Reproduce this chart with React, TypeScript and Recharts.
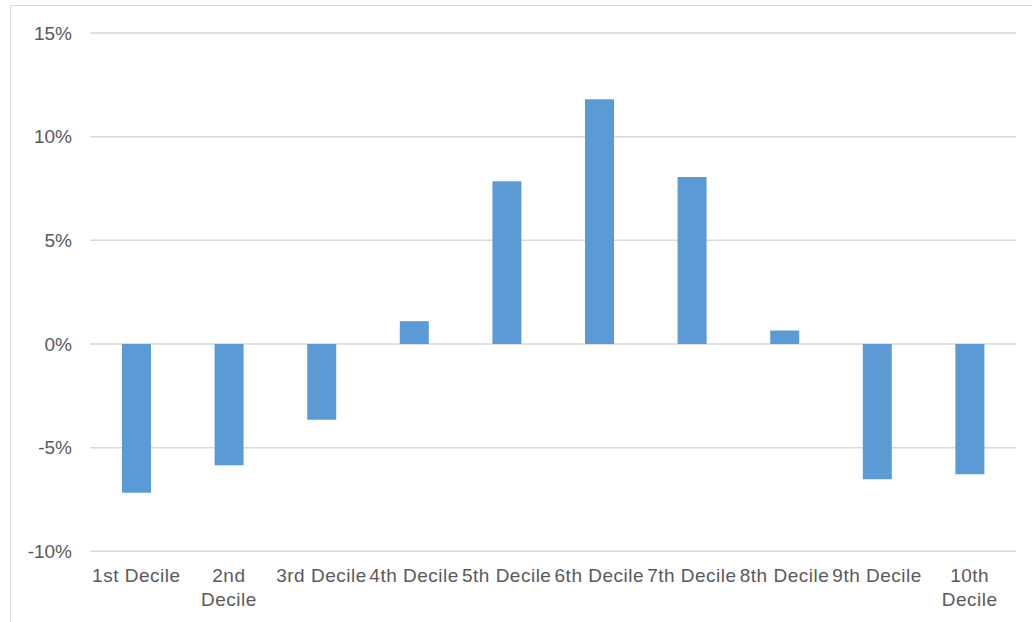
import { Bar, BarChart, CartesianGrid, XAxis, YAxis } from "recharts";

const categories = [
  "1st Decile",
  "2nd\nDecile",
  "3rd Decile",
  "4th Decile",
  "5th Decile",
  "6th Decile",
  "7th Decile",
  "8th Decile",
  "9th Decile",
  "10th\nDecile",
];
const values = [-0.0717, -0.0585, -0.0365, 0.011, 0.0785, 0.118, 0.0805, 0.0065, -0.0652, -0.0628];
const yTicks = [-0.1, -0.05, 0, 0.05, 0.1, 0.15];

const data = categories.map((name, i) => ({ name, value: values[i] }));

const TEXT = "#595959";
const FONT = "Arial, 'Liberation Sans', sans-serif";

function CategoryTick({ x, y, payload }: any) {
  const lines = String(payload.value).split("\n");
  return (
    <text x={x} y={y} textAnchor="middle" fill={TEXT} fontSize={19} letterSpacing={0.5} fontFamily={FONT}>
      {lines.map((line, i) => (
        <tspan key={i} x={x} dy={i === 0 ? 22.5 : 24}>
          {line}
        </tspan>
      ))}
    </text>
  );
}

export default function App() {
  return (
    <div style={{ position: "absolute", left: 0, top: 0, width: 1032, height: 622, overflow: "hidden", background: "#fff" }}>
      <div
        style={{
          position: "absolute",
          left: 10,
          top: 5,
          width: 1030,
          height: 700,
          border: "1px solid #D9D9D9",
          boxSizing: "border-box",
        }}
      />
      <div style={{ position: "absolute", left: 0, top: 0 }}>
        <BarChart width={1032} height={622} data={data} margin={{ top: 33, right: 16, bottom: 10.7, left: 10 }}>
          <CartesianGrid vertical={false} stroke="#D9D9D9" strokeWidth={1.5} />
          <XAxis
            dataKey="name"
            axisLine={false}
            tickLine={false}
            height={60}
            interval={0}
            tick={<CategoryTick />}
          />
          <YAxis
            width={80}
            domain={[-0.1, 0.15]}
            ticks={yTicks}
            axisLine={false}
            tickLine={false}
            tickMargin={12}
            tickFormatter={(v: number) => `${Math.round(v * 100)}%`}
            tick={{ fill: TEXT, fontSize: 19, fontFamily: FONT }}
          />
          <Bar dataKey="value" fill="#5B9BD5" barSize={29} isAnimationActive={false} />
        </BarChart>
      </div>
    </div>
  );
}
